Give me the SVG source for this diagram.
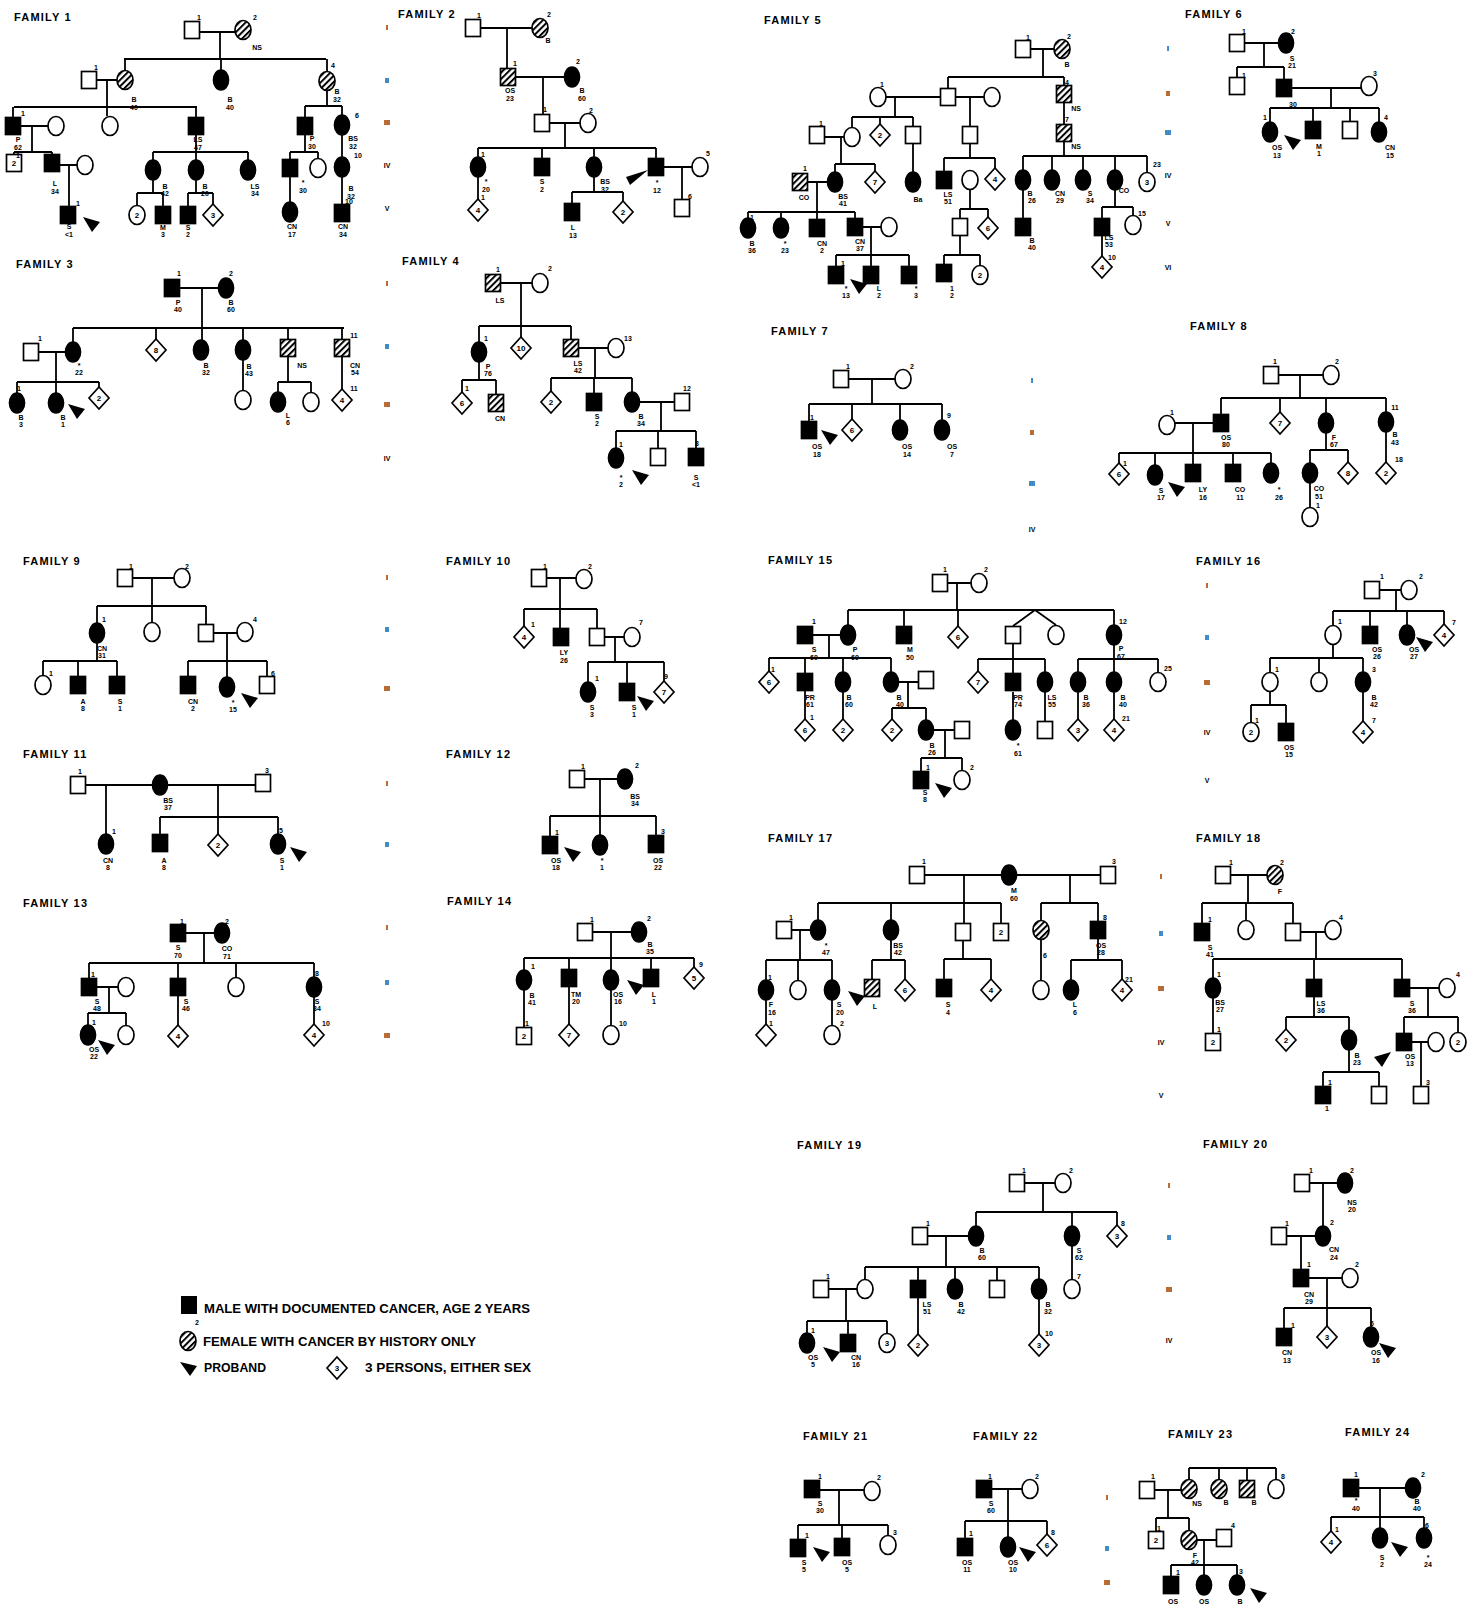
<svg xmlns="http://www.w3.org/2000/svg" width="1469" height="1606" viewBox="0 0 1469 1606">
<style>
.o{fill:#fff;stroke:#000;stroke-width:1.7}
.f{fill:#000;stroke:#000;stroke-width:1.7}
.h{fill:url(#hp);stroke:#000;stroke-width:1.7}
text{font-family:"Liberation Sans",Arial,sans-serif;font-weight:bold;fill:#000}
.t{font-size:11px;letter-spacing:1.2px}
.n,.l{font-size:7px;text-anchor:middle;dominant-baseline:central}
.i{font-size:8px;text-anchor:middle;dominant-baseline:central}
.g{font-size:7px;text-anchor:middle;dominant-baseline:central}
.k{fill:none;stroke:#000;stroke-width:1.8}
.lg{font-size:12px;dominant-baseline:central}
</style>
<defs>
<pattern id="hp" width="4.5" height="4.5" patternUnits="userSpaceOnUse" patternTransform="rotate(45)"><rect width="4.5" height="4.5" fill="#fff"/><rect width="2" height="4.5" fill="#000"/></pattern>
<rect id="S" class="o" x="-7.5" y="-8.5" width="15" height="17"/>
<rect id="SF" class="f" x="-7.5" y="-8.5" width="15" height="17"/>
<rect id="SH" class="h" x="-7.5" y="-8.5" width="15" height="17"/>
<ellipse id="C" class="o" rx="8" ry="9.5"/>
<ellipse id="CF" class="f" rx="7.5" ry="10"/>
<ellipse id="CH" class="h" rx="8" ry="9.5"/>
<polygon id="D" class="o" points="0,-11 10,0 0,11 -10,0"/>
<polygon id="P" points="0,0 17,5 9,15" fill="#000"/>
</defs>
<rect width="1469" height="1606" fill="#fff"/>

<g id="connectors" class="k">
<path id="c-f1" d="M200 32H235M220 32V59M124 59H326M125 59V70M221 59V70M327 59V71M97 80H117M107 80V116M14 107H197M13 107V117M196 107V117M21 126H48M32 126V152M14 152H52M14 152V154M52 152V154M60 165H77M69 165V206M196 135V160M153 152H248M153 152V160M248 152V160M153 180V193M137 193H163M137 193V205M163 193V206M196 180V193M188 193H213M188 193V206M213 193V204M327 91V106M305 106H342M305 106V117M342 106V115M305 135V152M290 152H318M290 152V159M318 152V158M290 177V202M342 135V157M342 177V204"/>
<path id="c-f2" d="M481 28H532M507 28V68M516 77H564M543 77V114M550 123H580M565 123V148M478 148H656M478 148V157M542 148V158M594 148V157M656 148V158M664 167H692M682 167V199M478 177V199M594 177V192M572 192H623M572 192V203M623 192V201"/>
<path id="c-f3" d="M180 288H218M202 288V340M73 328H344M73 328V342M156 328V339M243 328V340M288 328V339M342 328V339M39 352H65M56 352V393M17 382H99M17 382V393M99 382V387M243 360V390M288 357V382M278 382H311M278 382V392M311 382V392M342 357V389"/>
<path id="c-f4" d="M501 283H532M521 283V337M479 326H571M479 326V342M571 326V339M479 362V380M462 380H496M462 380V392M496 380V394M579 348H608M595 348V378M551 378H632M551 378V391M594 378V393M632 378V392M640 402H674M661 402V431M616 431H696M616 431V448M658 431V448M696 431V448"/>
<path id="c-f5" d="M1031 49H1054M1043 49V77M948 77H1064M948 77V88M1064 77V85M886 97H941M895 97V117M852 117H913M852 117V127M880 117V124M913 117V126M955 97H984M970 97V126M1064 103V124M825 137H844M841 137V164M835 164H875M835 164V172M875 164V171M913 144V172M970 144V158M944 158H995M944 158V171M995 158V168M1064 142V156M1023 156H1147M1023 156V170M1052 156V170M1083 156V170M1115 156V170M1147 156V172M808 182H827M817 182V212M748 212H855M748 212V218M781 212V218M817 212V219M855 212V218M970 190V209M960 209H988M960 209V218M988 209V217M1023 190V218M1115 190V207M1102 207H1133M1102 207V218M1133 207V215M863 227H881M871 227V255M836 255H909M836 255V266M871 255V266M909 255V266M960 236V255M944 255H980M944 255V264M980 255V265M1102 236V256"/>
<path id="c-f6" d="M1245 43H1278M1264 43V67M1237 67H1284M1237 67V77M1284 67V79M1292 88H1361M1331 88V108M1270 108H1379M1270 108V122M1313 108V121M1350 108V121M1379 108V122"/>
<path id="c-f7" d="M849 379H895M872 379V404M809 404H942M809 404V421M852 404V419M900 404V420M942 404V420"/>
<path id="c-f8" d="M1279 375H1323M1300 375V398M1221 398H1386M1221 398V414M1280 398V412M1326 398V413M1386 398V412M1175 423H1213M1193 423V464M1119 453H1271M1119 453V463M1155 453V465M1233 453V464M1271 453V463M1326 433V450M1310 450H1348M1310 450V463M1348 450V462M1386 432V462M1310 483V507"/>
<path id="c-f9" d="M133 578H174M152 578V622M97 606H206M97 606V623M206 606V624M214 633H237M227 633V677M188 661H267M188 661V676M267 661V676M97 643V661M43 661H117M43 661V675M78 661V676M117 661V676"/>
<path id="c-f10" d="M547 578H576M560 578V628M524 609H597M524 609V626M597 609V628M605 637H624M615 637V662M588 662H664M588 662V682M627 662V683M664 662V681"/>
<path id="c-f11" d="M86 785H152M106 785V834M168 785H255M218 785V834M160 817H278M160 817V834M278 817V834"/>
<path id="c-f12" d="M585 779H617M600 779V835M550 816H656M550 816V836M656 816V835"/>
<path id="c-f13" d="M186 933H214M204 933V963M89 963H314M89 963V978M178 963V978M236 963V977M314 963V977M97 987H118M109 987V1013M88 1013H126M88 1013V1025M126 1013V1025M178 996V1025M314 997V1024"/>
<path id="c-f14" d="M593 932H631M611 932V970M524 958H694M524 958V970M569 958V969M651 958V969M694 958V967M524 990V1027M569 987V1024M611 990V1025"/>
<path id="c-f15" d="M948 583H971M957 583V610M848 610H1114M848 610V625M904 610V626M958 610V626M1114 610V625M1035 610L1013 626M1035 610L1056 625M813 635H840M829 635V658M769 658H891M769 658V671M805 658V673M843 658V672M891 658V672M1013 644V673M978 659H1045M978 659V671M1045 659V672M1114 645V672M1078 659H1158M1078 659V672M1158 659V672M805 691V719M843 692V719M899 682H918M908 682V708M892 708H926M892 708V719M926 708V720M1013 692V720M1045 692V721M1078 692V719M1114 692V719M934 730H954M945 730V758M921 758H962M921 758V771M962 758V770"/>
<path id="c-f16" d="M1380 590H1401M1396 590V611M1333 611H1444M1333 611V625M1370 611V626M1407 611V625M1444 611V624M1333 645V658M1270 658H1363M1270 658V672M1319 658V672M1363 658V672M1270 692V705M1251 705H1286M1251 705V722M1286 705V723M1363 692V721"/>
<path id="c-f17" d="M925 875H1001M964 875V923M818 903H1001M818 903V920M891 903V920M1001 903V923M1017 875H1100M1070 875V903M1041 903H1098M1041 903V920M1098 903V921M792 930H810M800 930V960M766 960H832M766 960V980M798 960V980M832 960V980M891 940V960M872 960H905M872 960V979M905 960V979M963 941V959M944 959H991M944 959V979M991 959V979M1041 940V980M1098 939V960M1071 960H1122M1071 960V980M1122 960V979M766 1000V1024M832 1000V1025"/>
<path id="c-f18" d="M1231 875H1267M1248 875V903M1202 903H1293M1202 903V923M1246 903V920M1293 903V923M1301 932H1325M1316 932V959M1213 959H1402M1213 959V978M1314 959V979M1402 959V979M1213 998V1033M1314 997V1017M1286 1017H1349M1286 1017V1029M1349 1017V1030M1410 988H1439M1428 988V1017M1404 1017H1458M1404 1017V1033M1458 1017V1032M1412 1042H1428M1421 1042V1086M1349 1050V1072M1323 1072H1379M1323 1072V1086M1379 1072V1086"/>
<path id="c-f19" d="M1025 1183H1055M1043 1183V1212M976 1212H1117M976 1212V1226M1072 1212V1226M1117 1212V1225M928 1236H968M946 1236V1267M865 1267H1039M865 1267V1279M918 1267V1280M955 1267V1279M997 1267V1280M1039 1267V1279M1072 1246V1279M829 1289H857M846 1289V1321M807 1321H887M807 1321V1333M848 1321V1334M887 1321V1333M918 1298V1334M1039 1299V1334"/>
<path id="c-f20" d="M1310 1183H1337M1323 1183V1226M1287 1236H1315M1301 1236V1269M1309 1278H1342M1327 1278V1308M1284 1308H1371M1284 1308V1328M1327 1308V1326M1371 1308V1327"/>
<path id="c-f21" d="M820 1490H864M839 1490V1525M798 1525H888M798 1525V1539M842 1525V1538M888 1525V1535"/>
<path id="c-f22" d="M992 1489H1022M1008 1489V1537M965 1521H1047M965 1521V1538M1047 1521V1534"/>
<path id="c-f23" d="M1189 1468H1276M1189 1468V1479M1219 1468V1479M1247 1468V1480M1276 1468V1479M1155 1490H1181M1168 1490V1518M1156 1518H1189M1156 1518V1531M1189 1518V1530M1197 1540H1216M1204 1540V1575M1171 1565H1237M1171 1565V1576M1237 1565V1575"/>
<path id="c-f24" d="M1359 1488H1405M1380 1488V1528M1331 1517H1424M1331 1517V1531M1424 1517V1528"/>
</g>

<g id="generations">
<text class="g" x="387" y="27">I</text><text class="g" x="387" y="80">II</text><text class="g" x="387" y="122">III</text><text class="g" x="387" y="165">IV</text><text class="g" x="387" y="208">V</text>
<text class="g" x="387" y="283">I</text><text class="g" x="387" y="346">II</text><text class="g" x="387" y="404">III</text><text class="g" x="387" y="458">IV</text>
<text class="g" x="1168" y="48">I</text><text class="g" x="1168" y="93">II</text><text class="g" x="1168" y="132">III</text><text class="g" x="1168" y="175">IV</text><text class="g" x="1168" y="223">V</text><text class="g" x="1168" y="267">VI</text>
<text class="g" x="1032" y="380">I</text><text class="g" x="1032" y="432">II</text><text class="g" x="1032" y="483">III</text><text class="g" x="1032" y="529">IV</text>
<text class="g" x="387" y="577">I</text><text class="g" x="387" y="629">II</text><text class="g" x="387" y="688">III</text>
<text class="g" x="387" y="783">I</text><text class="g" x="387" y="844">II</text>
<text class="g" x="387" y="927">I</text><text class="g" x="387" y="982">II</text><text class="g" x="387" y="1035">III</text>
<text class="g" x="1207" y="585">I</text><text class="g" x="1207" y="637">II</text><text class="g" x="1207" y="682">III</text><text class="g" x="1207" y="732">IV</text><text class="g" x="1207" y="780">V</text>
<text class="g" x="1161" y="876">I</text><text class="g" x="1161" y="933">II</text><text class="g" x="1161" y="988">III</text><text class="g" x="1161" y="1042">IV</text><text class="g" x="1161" y="1095">V</text>
<text class="g" x="1169" y="1185">I</text><text class="g" x="1169" y="1237">II</text><text class="g" x="1169" y="1289">III</text><text class="g" x="1169" y="1340">IV</text>
<text class="g" x="1107" y="1497">I</text><text class="g" x="1107" y="1548">II</text><text class="g" x="1107" y="1582">III</text>
</g>

<g id="family-1">
<text class="t" x="14" y="21">FAMILY 1</text>
<g id="f1-1"><use href="#S" x="192" y="30"/><text class="n" x="199" y="17">1</text></g>
<g id="f1-2"><use href="#CH" x="243" y="30"/><text class="n" x="255" y="17">2</text><text class="l" x="257" y="47">NS</text></g>
<g id="f1-3"><use href="#S" x="89" y="80"/><text class="n" x="96" y="67">1</text></g>
<g id="f1-4"><use href="#CH" x="125" y="80"/><text class="l" x="134" y="99">B<tspan x="134" dy="7.5">40</tspan></text></g>
<g id="f1-5"><use href="#CF" x="221" y="80"/><text class="l" x="230" y="99">B<tspan x="230" dy="7.5">40</tspan></text></g>
<g id="f1-6"><use href="#CH" x="327" y="81"/><text class="n" x="333" y="65">4</text><text class="l" x="337" y="91">B<tspan x="337" dy="8">32</tspan></text></g>
<g id="f1-7"><use href="#SF" x="13" y="126"/><text class="n" x="23" y="113">1</text><text class="l" x="18" y="139">P<tspan x="18" dy="7.5">62</tspan></text></g>
<g id="f1-8"><use href="#C" x="56" y="126"/></g>
<g id="f1-9"><use href="#C" x="110" y="126"/></g>
<g id="f1-10"><use href="#SF" x="196" y="126"/><text class="l" x="198" y="139">LS<tspan x="198" dy="7.5">47</tspan></text></g>
<g id="f1-11"><use href="#SF" x="305" y="126"/><text class="l" x="312" y="138">P<tspan x="312" dy="7.5">30</tspan></text></g>
<g id="f1-12"><use href="#CF" x="342" y="125"/><text class="n" x="357" y="115">6</text><text class="l" x="353" y="138">BS<tspan x="353" dy="7.5">32</tspan></text></g>
<g id="f1-13"><use href="#S" x="14" y="163"/><text class="i" x="14" y="163">2</text><text class="n" x="18" y="155">1</text></g>
<g id="f1-14"><use href="#SF" x="52" y="163"/><text class="l" x="55" y="183">L<tspan x="55" dy="7.5">34</tspan></text></g>
<g id="f1-15"><use href="#C" x="85" y="165"/></g>
<g id="f1-16"><use href="#CF" x="153" y="170"/><text class="l" x="165" y="186">B<tspan x="165" dy="7">42</tspan></text></g>
<g id="f1-17"><use href="#CF" x="196" y="170"/><text class="l" x="205" y="186">B<tspan x="205" dy="7">20</tspan></text></g>
<g id="f1-18"><use href="#CF" x="248" y="170"/><text class="l" x="255" y="186">LS<tspan x="255" dy="7">34</tspan></text></g>
<g id="f1-19"><use href="#SF" x="290" y="168"/><text class="l" x="303" y="182">*<tspan x="303" dy="7.5">30</tspan></text></g>
<g id="f1-20"><use href="#C" x="318" y="168"/></g>
<g id="f1-21"><use href="#CF" x="342" y="167"/><text class="n" x="358" y="155">10</text><text class="l" x="351" y="188">B<tspan x="351" dy="7.5">32</tspan></text></g>
<g id="f1-22"><use href="#SF" x="68" y="215"/><text class="n" x="78" y="203">1</text><use href="#P" x="83" y="217"/><text class="l" x="69" y="226">S<tspan x="69" dy="7.5">&lt;1</tspan></text></g>
<g id="f1-23"><use href="#C" x="137" y="215"/><text class="i" x="137" y="215">2</text></g>
<g id="f1-24"><use href="#SF" x="163" y="215"/><text class="l" x="163" y="227">M<tspan x="163" dy="7">3</tspan></text></g>
<g id="f1-25"><use href="#SF" x="188" y="215"/><text class="l" x="188" y="227">S<tspan x="188" dy="7">2</tspan></text></g>
<g id="f1-26"><use href="#D" x="213" y="215"/><text class="i" x="213" y="215">3</text></g>
<g id="f1-27"><use href="#CF" x="290" y="212"/><text class="l" x="292" y="226">CN<tspan x="292" dy="7.5">17</tspan></text></g>
<g id="f1-28"><use href="#SF" x="342" y="213"/><text class="n" x="349" y="201">10</text><text class="l" x="343" y="226">CN<tspan x="343" dy="7.5">34</tspan></text></g>
</g>

<g id="family-2">
<text class="t" x="398" y="18">FAMILY 2</text>
<g id="f2-1"><use href="#S" x="473" y="28"/><text class="n" x="479" y="15">1</text></g>
<g id="f2-2"><use href="#CH" x="540" y="28"/><text class="n" x="549" y="14">2</text><text class="l" x="548" y="40">B</text></g>
<g id="f2-3"><use href="#SH" x="508" y="77"/><text class="n" x="515" y="63">1</text><text class="l" x="510" y="90">OS<tspan x="510" dy="7.5">23</tspan></text></g>
<g id="f2-4"><use href="#CF" x="572" y="77"/><text class="n" x="578" y="61">2</text><text class="l" x="582" y="90">B<tspan x="582" dy="7.5">60</tspan></text></g>
<g id="f2-5"><use href="#S" x="542" y="123"/><text class="n" x="545" y="109">1</text></g>
<g id="f2-6"><use href="#C" x="588" y="123"/><text class="n" x="591" y="110">2</text></g>
<g id="f2-7"><use href="#CF" x="478" y="167"/><text class="n" x="483" y="154">1</text><text class="l" x="486" y="181">*<tspan x="486" dy="7.5">20</tspan></text></g>
<g id="f2-8"><use href="#SF" x="542" y="167"/><text class="l" x="542" y="181">S<tspan x="542" dy="7.5">2</tspan></text></g>
<g id="f2-9"><use href="#CF" x="594" y="167"/><text class="l" x="605" y="181">BS<tspan x="605" dy="7.5">32</tspan></text></g>
<g id="f2-10"><use href="#SF" x="656" y="167"/><polygon points="648,170 626,177 630,185" fill="#000"/><text class="l" x="657" y="182">*<tspan x="657" dy="7.5">12</tspan></text></g>
<g id="f2-11"><use href="#C" x="700" y="167"/><text class="n" x="708" y="153">5</text></g>
<g id="f2-12"><use href="#D" x="478" y="210"/><text class="i" x="478" y="210">4</text><text class="n" x="483" y="197">1</text></g>
<g id="f2-13"><use href="#SF" x="572" y="212"/><text class="l" x="573" y="227">L<tspan x="573" dy="7.5">13</tspan></text></g>
<g id="f2-14"><use href="#D" x="623" y="212"/><text class="i" x="623" y="212">2</text></g>
<g id="f2-15"><use href="#S" x="682" y="208"/><text class="n" x="690" y="196">6</text></g>
</g>

<g id="family-3">
<text class="t" x="16" y="268">FAMILY 3</text>
<g id="f3-1"><use href="#SF" x="172" y="288"/><text class="n" x="179" y="273">1</text><text class="l" x="178" y="302">P<tspan x="178" dy="7">40</tspan></text></g>
<g id="f3-2"><use href="#CF" x="226" y="288"/><text class="n" x="231" y="273">2</text><text class="l" x="231" y="302">B<tspan x="231" dy="7">60</tspan></text></g>
<g id="f3-3"><use href="#S" x="31" y="352"/><text class="n" x="40" y="338">1</text></g>
<g id="f3-4"><use href="#CF" x="73" y="352"/><text class="l" x="79" y="365">*<tspan x="79" dy="7">22</tspan></text></g>
<g id="f3-5"><use href="#D" x="156" y="350"/><text class="i" x="156" y="350">8</text></g>
<g id="f3-6"><use href="#CF" x="201" y="350"/><text class="l" x="206" y="365">B<tspan x="206" dy="7">32</tspan></text></g>
<g id="f3-7"><use href="#CF" x="243" y="350"/><text class="l" x="249" y="366">B<tspan x="249" dy="7">43</tspan></text></g>
<g id="f3-8"><use href="#SH" x="288" y="348"/><text class="l" x="302" y="365">NS</text></g>
<g id="f3-9"><use href="#SH" x="342" y="348"/><text class="n" x="354" y="335">11</text><text class="l" x="355" y="365">CN<tspan x="355" dy="7">54</tspan></text></g>
<g id="f3-10"><use href="#CF" x="17" y="403"/><text class="n" x="19" y="388">1</text><text class="l" x="21" y="417">B<tspan x="21" dy="7">3</tspan></text></g>
<g id="f3-11"><use href="#CF" x="56" y="403"/><use href="#P" x="68" y="404"/><text class="l" x="63" y="417">B<tspan x="63" dy="7">1</tspan></text></g>
<g id="f3-12"><use href="#D" x="99" y="398"/><text class="i" x="99" y="398">2</text></g>
<g id="f3-13"><use href="#C" x="243" y="400"/></g>
<g id="f3-14"><use href="#CF" x="278" y="402"/><text class="l" x="288" y="415">L<tspan x="288" dy="7">6</tspan></text></g>
<g id="f3-15"><use href="#C" x="311" y="402"/></g>
<g id="f3-16"><use href="#D" x="342" y="400"/><text class="i" x="342" y="400">4</text><text class="n" x="354" y="388">11</text></g>
</g>

<g id="family-4">
<text class="t" x="402" y="265">FAMILY 4</text>
<g id="f4-1"><use href="#SH" x="493" y="283"/><text class="n" x="498" y="269">1</text><text class="l" x="500" y="300">LS</text></g>
<g id="f4-2"><use href="#C" x="540" y="283"/><text class="n" x="550" y="268">2</text></g>
<g id="f4-3"><use href="#CF" x="479" y="352"/><text class="n" x="486" y="338">1</text><text class="l" x="488" y="366">P<tspan x="488" dy="7">76</tspan></text></g>
<g id="f4-4"><use href="#D" x="521" y="348"/><text class="i" x="521" y="348">10</text></g>
<g id="f4-5"><use href="#SH" x="571" y="348"/><text class="l" x="578" y="363">LS<tspan x="578" dy="7">42</tspan></text></g>
<g id="f4-6"><use href="#C" x="616" y="348"/><text class="n" x="628" y="338">13</text></g>
<g id="f4-7"><use href="#D" x="462" y="403"/><text class="i" x="462" y="403">6</text><text class="n" x="467" y="388">1</text></g>
<g id="f4-8"><use href="#SH" x="496" y="403"/><text class="l" x="500" y="418">CN</text></g>
<g id="f4-9"><use href="#D" x="551" y="402"/><text class="i" x="551" y="402">2</text></g>
<g id="f4-10"><use href="#SF" x="594" y="402"/><text class="l" x="597" y="416">S<tspan x="597" dy="7">2</tspan></text></g>
<g id="f4-11"><use href="#CF" x="632" y="402"/><text class="l" x="641" y="416">B<tspan x="641" dy="7">34</tspan></text></g>
<g id="f4-12"><use href="#S" x="682" y="402"/><text class="n" x="687" y="388">12</text></g>
<g id="f4-13"><use href="#CF" x="616" y="458"/><text class="n" x="621" y="444">1</text><use href="#P" x="632" y="470"/><text class="l" x="621" y="477">*<tspan x="621" dy="7">2</tspan></text></g>
<g id="f4-14"><use href="#S" x="658" y="457"/></g>
<g id="f4-15"><use href="#SF" x="696" y="457"/><text class="n" x="697" y="443">3</text><text class="l" x="696" y="477">S<tspan x="696" dy="7">&lt;1</tspan></text></g>
</g>

<g id="family-5">
<text class="t" x="764" y="24">FAMILY 5</text>
<g id="f5-1"><use href="#S" x="1023" y="49"/><text class="n" x="1028" y="37">1</text></g>
<g id="f5-2"><use href="#CH" x="1062" y="49"/><text class="n" x="1069" y="36">2</text><text class="l" x="1067" y="64">B</text></g>
<g id="f5-3"><use href="#C" x="878" y="97"/><text class="n" x="882" y="84">1</text></g>
<g id="f5-4"><use href="#S" x="948" y="97"/></g>
<g id="f5-5"><use href="#C" x="992" y="97"/></g>
<g id="f5-6"><use href="#SH" x="1064" y="94"/><text class="n" x="1067" y="82">4</text><text class="l" x="1076" y="108">NS</text></g>
<g id="f5-7"><use href="#S" x="817" y="135"/><text class="n" x="821" y="123">1</text></g>
<g id="f5-8"><use href="#C" x="852" y="137"/></g>
<g id="f5-9"><use href="#D" x="880" y="135"/><text class="i" x="880" y="135">2</text></g>
<g id="f5-10"><use href="#S" x="913" y="135"/></g>
<g id="f5-11"><use href="#S" x="970" y="135"/></g>
<g id="f5-12"><use href="#SH" x="1064" y="133"/><text class="n" x="1067" y="119">7</text><text class="l" x="1076" y="146">NS</text></g>
<g id="f5-13"><use href="#SH" x="800" y="182"/><text class="n" x="805" y="168">1</text><text class="l" x="804" y="197">CO</text></g>
<g id="f5-14"><use href="#CF" x="835" y="182"/><text class="l" x="843" y="196">BS<tspan x="843" dy="7">41</tspan></text></g>
<g id="f5-15"><use href="#D" x="875" y="182"/><text class="i" x="875" y="182">7</text></g>
<g id="f5-16"><use href="#CF" x="913" y="182"/><text class="l" x="918" y="199">Ba</text></g>
<g id="f5-17"><use href="#SF" x="944" y="180"/><text class="l" x="948" y="194">LS<tspan x="948" dy="7">51</tspan></text></g>
<g id="f5-18"><use href="#C" x="970" y="180"/></g>
<g id="f5-19"><use href="#D" x="995" y="179"/><text class="i" x="995" y="179">4</text></g>
<g id="f5-20"><use href="#CF" x="1023" y="180"/><text class="l" x="1030" y="193">B<tspan x="1032" dy="7">26</tspan></text></g>
<g id="f5-21"><use href="#CF" x="1052" y="180"/><text class="l" x="1060" y="193">CN<tspan x="1060" dy="7">29</tspan></text></g>
<g id="f5-22"><use href="#CF" x="1083" y="180"/><text class="l" x="1090" y="193">S<tspan x="1090" dy="7">34</tspan></text></g>
<g id="f5-23"><use href="#CF" x="1115" y="180"/><text class="l" x="1124" y="190">CO</text></g>
<g id="f5-24"><use href="#C" x="1147" y="182"/><text class="i" x="1147" y="182">3</text><text class="n" x="1157" y="164">23</text></g>
<g id="f5-25"><use href="#CF" x="748" y="228"/><text class="n" x="752" y="217">1</text><text class="l" x="752" y="243">B<tspan x="752" dy="7">36</tspan></text></g>
<g id="f5-26"><use href="#CF" x="781" y="228"/><text class="l" x="785" y="243">*<tspan x="785" dy="7">23</tspan></text></g>
<g id="f5-27"><use href="#SF" x="817" y="228"/><text class="l" x="822" y="243">CN<tspan x="822" dy="7">2</tspan></text></g>
<g id="f5-28"><use href="#SF" x="855" y="227"/><text class="l" x="860" y="241">CN<tspan x="860" dy="7">37</tspan></text></g>
<g id="f5-29"><use href="#C" x="889" y="227"/></g>
<g id="f5-30"><use href="#S" x="960" y="227"/></g>
<g id="f5-31"><use href="#D" x="988" y="228"/><text class="i" x="988" y="228">6</text></g>
<g id="f5-32"><use href="#SF" x="1023" y="227"/><text class="l" x="1032" y="240">B<tspan x="1032" dy="7">40</tspan></text></g>
<g id="f5-33"><use href="#SF" x="1102" y="227"/><text class="l" x="1109" y="237">LS<tspan x="1109" dy="7">53</tspan></text></g>
<g id="f5-34"><use href="#C" x="1133" y="225"/><text class="n" x="1142" y="213">15</text></g>
<g id="f5-35"><use href="#SF" x="836" y="275"/><text class="n" x="843" y="263">1</text><use href="#P" x="850" y="279"/><text class="l" x="846" y="288">*<tspan x="846" dy="7">13</tspan></text></g>
<g id="f5-36"><use href="#SF" x="871" y="275"/><text class="l" x="879" y="288">L<tspan x="879" dy="7">2</tspan></text></g>
<g id="f5-37"><use href="#SF" x="909" y="275"/><text class="l" x="916" y="288">*<tspan x="916" dy="7">3</tspan></text></g>
<g id="f5-38"><use href="#SF" x="944" y="273"/><text class="l" x="952" y="288">1<tspan x="952" dy="7">2</tspan></text></g>
<g id="f5-39"><use href="#C" x="980" y="275"/><text class="i" x="980" y="275">2</text></g>
<g id="f5-40"><use href="#D" x="1102" y="267"/><text class="i" x="1102" y="267">4</text><text class="n" x="1112" y="257">10</text></g>
</g>

<g id="family-6">
<text class="t" x="1185" y="18">FAMILY 6</text>
<g id="f6-1"><use href="#S" x="1237" y="43"/><text class="n" x="1244" y="31">1</text></g>
<g id="f6-2"><use href="#CF" x="1286" y="43"/><text class="n" x="1293" y="31">2</text><text class="l" x="1292" y="58">S<tspan x="1292" dy="7">21</tspan></text></g>
<g id="f6-3"><use href="#S" x="1237" y="86"/><text class="n" x="1244" y="75">1</text></g>
<g id="f6-4"><use href="#SF" x="1284" y="88"/><text class="l" x="1293" y="104">30</text></g>
<g id="f6-5"><use href="#C" x="1369" y="86"/><text class="n" x="1375" y="73">3</text></g>
<g id="f6-6"><use href="#CF" x="1270" y="132"/><text class="n" x="1265" y="117">1</text><use href="#P" x="1284" y="135"/><text class="l" x="1277" y="147">OS<tspan x="1277" dy="7.5">13</tspan></text></g>
<g id="f6-7"><use href="#SF" x="1313" y="130"/><text class="l" x="1319" y="146">M<tspan x="1319" dy="7">1</tspan></text></g>
<g id="f6-8"><use href="#S" x="1350" y="130"/></g>
<g id="f6-9"><use href="#CF" x="1379" y="132"/><text class="n" x="1386" y="117">4</text><text class="l" x="1390" y="147">CN<tspan x="1390" dy="7.5">15</tspan></text></g>
</g>

<g id="family-7">
<text class="t" x="771" y="335">FAMILY 7</text>
<g id="f7-1"><use href="#S" x="841" y="379"/><text class="n" x="848" y="366">1</text></g>
<g id="f7-2"><use href="#C" x="903" y="379"/><text class="n" x="912" y="366">2</text></g>
<g id="f7-3"><use href="#SF" x="809" y="430"/><text class="n" x="812" y="417">1</text><use href="#P" x="821" y="430"/><text class="l" x="817" y="446">OS<tspan x="817" dy="7.5">18</tspan></text></g>
<g id="f7-4"><use href="#D" x="852" y="430"/><text class="i" x="852" y="430">6</text></g>
<g id="f7-5"><use href="#CF" x="900" y="430"/><text class="l" x="907" y="446">OS<tspan x="907" dy="7.5">14</tspan></text></g>
<g id="f7-6"><use href="#CF" x="942" y="430"/><text class="n" x="949" y="415">9</text><text class="l" x="952" y="446">OS<tspan x="952" dy="7.5">7</tspan></text></g>
</g>

<g id="family-8">
<text class="t" x="1190" y="330">FAMILY 8</text>
<g id="f8-1"><use href="#S" x="1271" y="375"/><text class="n" x="1275" y="361">1</text></g>
<g id="f8-2"><use href="#C" x="1331" y="375"/><text class="n" x="1337" y="361">2</text></g>
<g id="f8-3"><use href="#C" x="1167" y="425"/><text class="n" x="1172" y="412">1</text></g>
<g id="f8-4"><use href="#SF" x="1221" y="423"/><text class="l" x="1226" y="437">OS<tspan x="1226" dy="7">80</tspan></text></g>
<g id="f8-5"><use href="#D" x="1280" y="423"/><text class="i" x="1280" y="423">7</text></g>
<g id="f8-6"><use href="#CF" x="1326" y="423"/><text class="l" x="1334" y="437">F<tspan x="1334" dy="7">67</tspan></text></g>
<g id="f8-7"><use href="#CF" x="1386" y="422"/><text class="n" x="1395" y="407">11</text><text class="l" x="1395" y="434">B<tspan x="1395" dy="7.5">43</tspan></text></g>
<g id="f8-8"><use href="#D" x="1119" y="474"/><text class="i" x="1119" y="474">6</text><text class="n" x="1125" y="463">1</text></g>
<g id="f8-9"><use href="#CF" x="1155" y="475"/><use href="#P" x="1168" y="482"/><text class="l" x="1161" y="490">S<tspan x="1161" dy="7">17</tspan></text></g>
<g id="f8-10"><use href="#SF" x="1193" y="473"/><text class="l" x="1203" y="489">LY<tspan x="1203" dy="7.5">16</tspan></text></g>
<g id="f8-11"><use href="#SF" x="1233" y="473"/><text class="l" x="1240" y="489">CO<tspan x="1240" dy="7.5">11</tspan></text></g>
<g id="f8-12"><use href="#CF" x="1271" y="473"/><text class="l" x="1279" y="489">*<tspan x="1279" dy="7.5">26</tspan></text></g>
<g id="f8-13"><use href="#CF" x="1310" y="473"/><text class="l" x="1319" y="488">CO<tspan x="1319" dy="7.5">51</tspan></text></g>
<g id="f8-14"><use href="#D" x="1348" y="473"/><text class="i" x="1348" y="473">8</text></g>
<g id="f8-15"><use href="#D" x="1386" y="473"/><text class="i" x="1386" y="473">2</text><text class="n" x="1399" y="459">18</text></g>
<g id="f8-16"><use href="#C" x="1310" y="517"/><text class="n" x="1318" y="505">1</text></g>
</g>

<g id="family-9">
<text class="t" x="23" y="565">FAMILY 9</text>
<g id="f9-1"><use href="#S" x="125" y="578"/><text class="n" x="131" y="566">1</text></g>
<g id="f9-2"><use href="#C" x="182" y="578"/><text class="n" x="187" y="566">2</text></g>
<g id="f9-3"><use href="#CF" x="97" y="633"/><text class="n" x="104" y="619">1</text><text class="l" x="102" y="648">CN<tspan x="102" dy="7">31</tspan></text></g>
<g id="f9-4"><use href="#C" x="152" y="632"/></g>
<g id="f9-5"><use href="#S" x="206" y="633"/></g>
<g id="f9-6"><use href="#C" x="245" y="632"/><text class="n" x="255" y="619">4</text></g>
<g id="f9-7"><use href="#C" x="43" y="685"/><text class="n" x="51" y="673">1</text></g>
<g id="f9-8"><use href="#SF" x="78" y="685"/><text class="l" x="83" y="701">A<tspan x="83" dy="7">8</tspan></text></g>
<g id="f9-9"><use href="#SF" x="117" y="685"/><text class="l" x="120" y="701">S<tspan x="120" dy="7">1</tspan></text></g>
<g id="f9-10"><use href="#SF" x="188" y="685"/><text class="l" x="193" y="701">CN<tspan x="193" dy="7">2</tspan></text></g>
<g id="f9-11"><use href="#CF" x="227" y="687"/><use href="#P" x="241" y="693"/><text class="l" x="233" y="702">*<tspan x="233" dy="7">15</tspan></text></g>
<g id="f9-12"><use href="#S" x="267" y="685"/><text class="n" x="273" y="673">6</text></g>
</g>

<g id="family-10">
<text class="t" x="446" y="565">FAMILY 10</text>
<g id="f10-1"><use href="#S" x="539" y="578"/><text class="n" x="545" y="566">1</text></g>
<g id="f10-2"><use href="#C" x="584" y="579"/><text class="n" x="590" y="566">2</text></g>
<g id="f10-3"><use href="#D" x="524" y="637"/><text class="i" x="524" y="637">4</text><text class="n" x="533" y="624">1</text></g>
<g id="f10-4"><use href="#SF" x="561" y="637"/><text class="l" x="564" y="652">LY<tspan x="564" dy="7.5">26</tspan></text></g>
<g id="f10-5"><use href="#S" x="597" y="637"/></g>
<g id="f10-6"><use href="#C" x="632" y="637"/><text class="n" x="641" y="622">7</text></g>
<g id="f10-7"><use href="#CF" x="588" y="692"/><text class="n" x="597" y="678">1</text><text class="l" x="592" y="707">S<tspan x="592" dy="7">3</tspan></text></g>
<g id="f10-8"><use href="#SF" x="627" y="692"/><use href="#P" x="637" y="696"/><text class="l" x="634" y="707">S<tspan x="634" dy="7">1</tspan></text></g>
<g id="f10-9"><use href="#D" x="664" y="692"/><text class="i" x="664" y="692">7</text><text class="n" x="666" y="676">9</text></g>
</g>

<g id="family-11">
<text class="t" x="23" y="758">FAMILY 11</text>
<g id="f11-1"><use href="#S" x="78" y="785"/><text class="n" x="80" y="771">1</text></g>
<g id="f11-2"><use href="#CF" x="160" y="785"/><text class="l" x="168" y="800">BS<tspan x="168" dy="7">37</tspan></text></g>
<g id="f11-3"><use href="#S" x="263" y="783"/><text class="n" x="267" y="770">3</text></g>
<g id="f11-4"><use href="#CF" x="106" y="844"/><text class="n" x="114" y="831">1</text><text class="l" x="108" y="860">CN<tspan x="108" dy="7">8</tspan></text></g>
<g id="f11-5"><use href="#SF" x="160" y="843"/><text class="l" x="164" y="860">A<tspan x="164" dy="7">8</tspan></text></g>
<g id="f11-6"><use href="#D" x="218" y="845"/><text class="i" x="218" y="845">2</text></g>
<g id="f11-7"><use href="#CF" x="278" y="844"/><text class="n" x="281" y="830">5</text><use href="#P" x="290" y="847"/><text class="l" x="282" y="860">S<tspan x="282" dy="7">1</tspan></text></g>
</g>

<g id="family-12">
<text class="t" x="446" y="758">FAMILY 12</text>
<g id="f12-1"><use href="#S" x="577" y="779"/><text class="n" x="583" y="766">1</text></g>
<g id="f12-2"><use href="#CF" x="625" y="779"/><text class="n" x="637" y="765">2</text><text class="l" x="635" y="796">BS<tspan x="635" dy="7">34</tspan></text></g>
<g id="f12-3"><use href="#SF" x="550" y="845"/><text class="n" x="557" y="832">1</text><use href="#P" x="564" y="847"/><text class="l" x="556" y="860">OS<tspan x="556" dy="7">18</tspan></text></g>
<g id="f12-4"><use href="#CF" x="600" y="845"/><text class="l" x="602" y="860">*<tspan x="602" dy="7">1</tspan></text></g>
<g id="f12-5"><use href="#SF" x="656" y="844"/><text class="n" x="663" y="831">3</text><text class="l" x="658" y="860">OS<tspan x="658" dy="7">22</tspan></text></g>
</g>

<g id="family-13">
<text class="t" x="23" y="907">FAMILY 13</text>
<g id="f13-1"><use href="#SF" x="178" y="933"/><text class="n" x="182" y="921">1</text><text class="l" x="178" y="947">S<tspan x="178" dy="7.5">70</tspan></text></g>
<g id="f13-2"><use href="#CF" x="222" y="933"/><text class="n" x="227" y="921">2</text><text class="l" x="227" y="948">CO<tspan x="227" dy="7.5">71</tspan></text></g>
<g id="f13-3"><use href="#SF" x="89" y="987"/><text class="n" x="93" y="974">1</text><text class="l" x="97" y="1001">S<tspan x="97" dy="7">48</tspan></text></g>
<g id="f13-4"><use href="#C" x="126" y="987"/></g>
<g id="f13-5"><use href="#SF" x="178" y="987"/><text class="l" x="186" y="1001">S<tspan x="186" dy="7">46</tspan></text></g>
<g id="f13-6"><use href="#C" x="236" y="987"/></g>
<g id="f13-7"><use href="#CF" x="314" y="987"/><text class="n" x="317" y="973">8</text><text class="l" x="317" y="1001">S<tspan x="317" dy="7">34</tspan></text></g>
<g id="f13-8"><use href="#CF" x="88" y="1035"/><text class="n" x="94" y="1022">1</text><use href="#P" x="98" y="1040"/><text class="l" x="94" y="1049">OS<tspan x="94" dy="7">22</tspan></text></g>
<g id="f13-9"><use href="#C" x="126" y="1035"/></g>
<g id="f13-10"><use href="#D" x="178" y="1036"/><text class="i" x="178" y="1036">4</text></g>
<g id="f13-11"><use href="#D" x="314" y="1035"/><text class="i" x="314" y="1035">4</text><text class="n" x="326" y="1023">10</text></g>
</g>

<g id="family-14">
<text class="t" x="447" y="905">FAMILY 14</text>
<g id="f14-1"><use href="#S" x="585" y="932"/><text class="n" x="592" y="919">1</text></g>
<g id="f14-2"><use href="#CF" x="639" y="932"/><text class="n" x="649" y="918">2</text><text class="l" x="650" y="944">B<tspan x="650" dy="7">35</tspan></text></g>
<g id="f14-3"><use href="#CF" x="524" y="980"/><text class="n" x="533" y="966">1</text><text class="l" x="532" y="995">B<tspan x="532" dy="7">41</tspan></text></g>
<g id="f14-4"><use href="#SF" x="569" y="978"/><text class="l" x="576" y="994">TM<tspan x="576" dy="7">20</tspan></text></g>
<g id="f14-5"><use href="#CF" x="611" y="980"/><use href="#P" x="627" y="980"/><text class="l" x="618" y="994">OS<tspan x="618" dy="7">16</tspan></text></g>
<g id="f14-6"><use href="#SF" x="651" y="978"/><text class="l" x="654" y="994">L<tspan x="654" dy="7">1</tspan></text></g>
<g id="f14-7"><use href="#D" x="694" y="978"/><text class="i" x="694" y="978">5</text><text class="n" x="701" y="964">9</text></g>
<g id="f14-8"><use href="#S" x="524" y="1036"/><text class="i" x="524" y="1036">2</text><text class="n" x="527" y="1023">1</text></g>
<g id="f14-9"><use href="#D" x="569" y="1035"/><text class="i" x="569" y="1035">7</text></g>
<g id="f14-10"><use href="#C" x="611" y="1035"/><text class="n" x="623" y="1023">10</text></g>
</g>

<g id="family-15">
<text class="t" x="768" y="564">FAMILY 15</text>
<g id="f15-1"><use href="#S" x="940" y="583"/><text class="n" x="945" y="569">1</text></g>
<g id="f15-2"><use href="#C" x="979" y="583"/><text class="n" x="986" y="569">2</text></g>
<g id="f15-3"><use href="#SF" x="805" y="635"/><text class="n" x="814" y="621">1</text><text class="l" x="814" y="649">S<tspan x="814" dy="7.5">60</tspan></text></g>
<g id="f15-4"><use href="#CF" x="848" y="635"/><text class="l" x="855" y="649">P<tspan x="855" dy="7.5">69</tspan></text></g>
<g id="f15-5"><use href="#SF" x="904" y="635"/><text class="l" x="910" y="649">M<tspan x="910" dy="7.5">50</tspan></text></g>
<g id="f15-6"><use href="#D" x="958" y="637"/><text class="i" x="958" y="637">6</text></g>
<g id="f15-7"><use href="#S" x="1013" y="635"/></g>
<g id="f15-8"><use href="#C" x="1056" y="635"/></g>
<g id="f15-9"><use href="#CF" x="1114" y="635"/><text class="n" x="1123" y="621">12</text><text class="l" x="1121" y="648">P<tspan x="1121" dy="7.5">67</tspan></text></g>
<g id="f15-10"><use href="#D" x="769" y="682"/><text class="i" x="769" y="682">6</text><text class="n" x="773" y="669">1</text></g>
<g id="f15-11"><use href="#SF" x="805" y="682"/><text class="l" x="810" y="697">PR<tspan x="810" dy="7">61</tspan></text></g>
<g id="f15-12"><use href="#CF" x="843" y="682"/><text class="l" x="849" y="697">B<tspan x="849" dy="7">60</tspan></text></g>
<g id="f15-13"><use href="#CF" x="891" y="682"/><text class="l" x="899" y="697">B<tspan x="900" dy="7">40</tspan></text></g>
<g id="f15-14"><use href="#S" x="926" y="680"/></g>
<g id="f15-15"><use href="#D" x="978" y="682"/><text class="i" x="978" y="682">7</text></g>
<g id="f15-16"><use href="#SF" x="1013" y="682"/><text class="l" x="1018" y="697">PR<tspan x="1018" dy="7">74</tspan></text></g>
<g id="f15-17"><use href="#CF" x="1045" y="682"/><text class="l" x="1052" y="697">LS<tspan x="1052" dy="7">55</tspan></text></g>
<g id="f15-18"><use href="#CF" x="1078" y="682"/><text class="l" x="1086" y="697">B<tspan x="1086" dy="7">36</tspan></text></g>
<g id="f15-19"><use href="#CF" x="1114" y="682"/><text class="l" x="1123" y="697">B<tspan x="1123" dy="7">40</tspan></text></g>
<g id="f15-20"><use href="#C" x="1158" y="682"/><text class="n" x="1168" y="668">25</text></g>
<g id="f15-21"><use href="#D" x="805" y="730"/><text class="i" x="805" y="730">6</text><text class="n" x="812" y="717">1</text></g>
<g id="f15-22"><use href="#D" x="843" y="730"/><text class="i" x="843" y="730">2</text></g>
<g id="f15-23"><use href="#D" x="892" y="730"/><text class="i" x="892" y="730">2</text></g>
<g id="f15-24"><use href="#CF" x="926" y="730"/><text class="l" x="932" y="745">B<tspan x="932" dy="7">26</tspan></text></g>
<g id="f15-25"><use href="#S" x="962" y="730"/></g>
<g id="f15-26"><use href="#CF" x="1013" y="730"/><text class="l" x="1018" y="745">*<tspan x="1018" dy="7.5">61</tspan></text></g>
<g id="f15-27"><use href="#S" x="1045" y="730"/></g>
<g id="f15-28"><use href="#D" x="1078" y="730"/><text class="i" x="1078" y="730">3</text></g>
<g id="f15-29"><use href="#D" x="1114" y="730"/><text class="i" x="1114" y="730">4</text><text class="n" x="1126" y="718">21</text></g>
<g id="f15-30"><use href="#SF" x="921" y="780"/><text class="n" x="928" y="767">1</text><use href="#P" x="935" y="783"/><text class="l" x="925" y="792">S<tspan x="925" dy="7">8</tspan></text></g>
<g id="f15-31"><use href="#C" x="962" y="780"/><text class="n" x="972" y="767">2</text></g>
</g>

<g id="family-16">
<text class="t" x="1196" y="565">FAMILY 16</text>
<g id="f16-1"><use href="#S" x="1372" y="590"/><text class="n" x="1382" y="576">1</text></g>
<g id="f16-2"><use href="#C" x="1409" y="590"/><text class="n" x="1421" y="576">2</text></g>
<g id="f16-3"><use href="#C" x="1333" y="635"/><text class="n" x="1340" y="621">1</text></g>
<g id="f16-4"><use href="#SF" x="1370" y="635"/><text class="l" x="1377" y="649">OS<tspan x="1377" dy="7">26</tspan></text></g>
<g id="f16-5"><use href="#CF" x="1407" y="635"/><use href="#P" x="1416" y="637"/><text class="l" x="1414" y="649">OS<tspan x="1414" dy="7">27</tspan></text></g>
<g id="f16-6"><use href="#D" x="1444" y="635"/><text class="i" x="1444" y="635">4</text><text class="n" x="1454" y="622">7</text></g>
<g id="f16-7"><use href="#C" x="1270" y="682"/><text class="n" x="1277" y="669">1</text></g>
<g id="f16-8"><use href="#C" x="1319" y="682"/></g>
<g id="f16-9"><use href="#CF" x="1363" y="682"/><text class="n" x="1374" y="669">3</text><text class="l" x="1374" y="697">B<tspan x="1374" dy="7">42</tspan></text></g>
<g id="f16-10"><use href="#C" x="1251" y="732"/><text class="i" x="1251" y="732">2</text><text class="n" x="1257" y="720">1</text></g>
<g id="f16-11"><use href="#SF" x="1286" y="732"/><text class="l" x="1289" y="747">OS<tspan x="1289" dy="7">15</tspan></text></g>
<g id="f16-12"><use href="#D" x="1363" y="732"/><text class="i" x="1363" y="732">4</text><text class="n" x="1374" y="720">7</text></g>
</g>

<g id="family-17">
<text class="t" x="768" y="842">FAMILY 17</text>
<g id="f17-1"><use href="#S" x="917" y="875"/><text class="n" x="924" y="861">1</text></g>
<g id="f17-2"><use href="#CF" x="1009" y="875"/><text class="l" x="1014" y="890">M<tspan x="1014" dy="8">60</tspan></text></g>
<g id="f17-3"><use href="#S" x="1108" y="875"/><text class="n" x="1114" y="861">3</text></g>
<g id="f17-4"><use href="#S" x="784" y="930"/><text class="n" x="791" y="917">1</text></g>
<g id="f17-5"><use href="#CF" x="818" y="930"/><text class="l" x="826" y="945">*<tspan x="826" dy="7">47</tspan></text></g>
<g id="f17-6"><use href="#CF" x="891" y="930"/><text class="l" x="898" y="945">BS<tspan x="898" dy="7">42</tspan></text></g>
<g id="f17-7"><use href="#S" x="963" y="932"/></g>
<g id="f17-8"><use href="#S" x="1001" y="932"/><text class="i" x="1001" y="932">2</text></g>
<g id="f17-9"><use href="#CH" x="1041" y="930"/><text class="l" x="1045" y="955">6</text></g>
<g id="f17-10"><use href="#SF" x="1098" y="930"/><text class="n" x="1105" y="917">8</text><text class="l" x="1101" y="945">OS<tspan x="1101" dy="7">28</tspan></text></g>
<g id="f17-11"><use href="#CF" x="766" y="990"/><text class="n" x="770" y="977">1</text><text class="l" x="771" y="1004">F<tspan x="772" dy="8">16</tspan></text></g>
<g id="f17-12"><use href="#C" x="798" y="990"/></g>
<g id="f17-13"><use href="#CF" x="832" y="990"/><use href="#P" x="848" y="991"/><text class="l" x="839" y="1004">S<tspan x="840" dy="8">20</tspan></text></g>
<g id="f17-14"><use href="#SH" x="872" y="988"/><text class="l" x="875" y="1006">L</text></g>
<g id="f17-15"><use href="#D" x="905" y="990"/><text class="i" x="905" y="990">6</text></g>
<g id="f17-16"><use href="#SF" x="944" y="988"/><text class="l" x="948" y="1004">S<tspan x="948" dy="8">4</tspan></text></g>
<g id="f17-17"><use href="#D" x="991" y="990"/><text class="i" x="991" y="990">4</text></g>
<g id="f17-18"><use href="#C" x="1041" y="990"/></g>
<g id="f17-19"><use href="#CF" x="1071" y="990"/><text class="l" x="1075" y="1004">L<tspan x="1075" dy="8">6</tspan></text></g>
<g id="f17-20"><use href="#D" x="1122" y="990"/><text class="i" x="1122" y="990">4</text><text class="n" x="1129" y="979">21</text></g>
<g id="f17-21"><use href="#D" x="766" y="1035"/><text class="n" x="771" y="1023">1</text></g>
<g id="f17-22"><use href="#C" x="832" y="1035"/><text class="n" x="842" y="1023">2</text></g>
</g>

<g id="family-18">
<text class="t" x="1196" y="842">FAMILY 18</text>
<g id="f18-1"><use href="#S" x="1223" y="875"/><text class="n" x="1231" y="862">1</text></g>
<g id="f18-2"><use href="#CH" x="1275" y="875"/><text class="n" x="1282" y="862">2</text><text class="l" x="1280" y="891">F</text></g>
<g id="f18-3"><use href="#SF" x="1202" y="932"/><text class="n" x="1210" y="919">1</text><text class="l" x="1210" y="947">S<tspan x="1210" dy="7">41</tspan></text></g>
<g id="f18-4"><use href="#C" x="1246" y="930"/></g>
<g id="f18-5"><use href="#S" x="1293" y="932"/></g>
<g id="f18-6"><use href="#C" x="1333" y="930"/><text class="n" x="1341" y="917">4</text></g>
<g id="f18-7"><use href="#CF" x="1213" y="988"/><text class="n" x="1219" y="974">1</text><text class="l" x="1220" y="1002">BS<tspan x="1220" dy="7">27</tspan></text></g>
<g id="f18-8"><use href="#SF" x="1314" y="988"/><text class="l" x="1321" y="1003">LS<tspan x="1321" dy="7">36</tspan></text></g>
<g id="f18-9"><use href="#SF" x="1402" y="988"/><text class="l" x="1412" y="1003">S<tspan x="1412" dy="7">36</tspan></text></g>
<g id="f18-10"><use href="#C" x="1447" y="988"/><text class="n" x="1458" y="974">4</text></g>
<g id="f18-11"><use href="#S" x="1213" y="1042"/><text class="i" x="1213" y="1042">2</text><text class="n" x="1219" y="1029">1</text></g>
<g id="f18-12"><use href="#D" x="1286" y="1040"/><text class="i" x="1286" y="1040">2</text></g>
<g id="f18-13"><use href="#CF" x="1349" y="1040"/><text class="l" x="1357" y="1055">B<tspan x="1357" dy="7">23</tspan></text></g>
<g id="f18-14"><use href="#SF" x="1404" y="1042"/><use href="#P" transform="translate(1391 1052) scale(-1 1)"/><text class="l" x="1410" y="1056">OS<tspan x="1410" dy="7">13</tspan></text></g>
<g id="f18-15"><use href="#C" x="1436" y="1042"/></g>
<g id="f18-16"><use href="#C" x="1458" y="1042"/><text class="i" x="1458" y="1042">2</text></g>
<g id="f18-17"><use href="#SF" x="1323" y="1095"/><text class="n" x="1330" y="1082">1</text><text class="l" x="1327" y="1108">1</text></g>
<g id="f18-18"><use href="#S" x="1379" y="1095"/></g>
<g id="f18-19"><use href="#S" x="1421" y="1095"/><text class="n" x="1428" y="1082">3</text></g>
</g>

<g id="family-19">
<text class="t" x="797" y="1149">FAMILY 19</text>
<g id="f19-1"><use href="#S" x="1017" y="1183"/><text class="n" x="1024" y="1170">1</text></g>
<g id="f19-2"><use href="#C" x="1063" y="1183"/><text class="n" x="1071" y="1170">2</text></g>
<g id="f19-3"><use href="#S" x="920" y="1236"/><text class="n" x="928" y="1223">1</text></g>
<g id="f19-4"><use href="#CF" x="976" y="1236"/><text class="l" x="982" y="1250">B<tspan x="982" dy="7">60</tspan></text></g>
<g id="f19-5"><use href="#CF" x="1072" y="1236"/><text class="l" x="1079" y="1250">S<tspan x="1079" dy="7">62</tspan></text></g>
<g id="f19-6"><use href="#D" x="1117" y="1236"/><text class="i" x="1117" y="1236">3</text><text class="n" x="1123" y="1223">8</text></g>
<g id="f19-7"><use href="#S" x="821" y="1289"/><text class="n" x="828" y="1276">1</text></g>
<g id="f19-8"><use href="#C" x="865" y="1289"/></g>
<g id="f19-9"><use href="#SF" x="918" y="1289"/><text class="l" x="927" y="1304">LS<tspan x="927" dy="7">51</tspan></text></g>
<g id="f19-10"><use href="#CF" x="955" y="1289"/><text class="l" x="961" y="1304">B<tspan x="961" dy="7">42</tspan></text></g>
<g id="f19-11"><use href="#S" x="997" y="1289"/></g>
<g id="f19-12"><use href="#CF" x="1039" y="1289"/><text class="l" x="1048" y="1304">B<tspan x="1048" dy="7">32</tspan></text></g>
<g id="f19-13"><use href="#C" x="1072" y="1289"/><text class="n" x="1079" y="1276">7</text></g>
<g id="f19-14"><use href="#CF" x="807" y="1343"/><text class="n" x="813" y="1330">1</text><use href="#P" x="823" y="1347"/><text class="l" x="813" y="1357">OS<tspan x="813" dy="7">5</tspan></text></g>
<g id="f19-15"><use href="#SF" x="848" y="1343"/><text class="l" x="856" y="1357">CN<tspan x="856" dy="7">16</tspan></text></g>
<g id="f19-16"><use href="#C" x="887" y="1343"/><text class="i" x="887" y="1343">3</text></g>
<g id="f19-17"><use href="#D" x="918" y="1345"/><text class="i" x="918" y="1345">2</text></g>
<g id="f19-18"><use href="#D" x="1039" y="1345"/><text class="i" x="1039" y="1345">3</text><text class="n" x="1049" y="1333">10</text></g>
</g>

<g id="family-20">
<text class="t" x="1203" y="1148">FAMILY 20</text>
<g id="f20-1"><use href="#S" x="1302" y="1183"/><text class="n" x="1311" y="1170">1</text></g>
<g id="f20-2"><use href="#CF" x="1345" y="1183"/><text class="n" x="1352" y="1170">2</text><text class="l" x="1352" y="1202">NS<tspan x="1352" dy="7">20</tspan></text></g>
<g id="f20-3"><use href="#S" x="1279" y="1236"/><text class="n" x="1287" y="1223">1</text></g>
<g id="f20-4"><use href="#CF" x="1323" y="1236"/><text class="n" x="1332" y="1222">2</text><text class="l" x="1334" y="1249">CN<tspan x="1334" dy="8">24</tspan></text></g>
<g id="f20-5"><use href="#SF" x="1301" y="1278"/><text class="n" x="1309" y="1264">1</text><text class="l" x="1309" y="1294">CN<tspan x="1309" dy="7">29</tspan></text></g>
<g id="f20-6"><use href="#C" x="1350" y="1278"/><text class="n" x="1357" y="1264">2</text></g>
<g id="f20-7"><use href="#SF" x="1284" y="1337"/><text class="n" x="1293" y="1325">1</text><text class="l" x="1287" y="1352">CN<tspan x="1287" dy="8">13</tspan></text></g>
<g id="f20-8"><use href="#D" x="1327" y="1337"/><text class="i" x="1327" y="1337">3</text></g>
<g id="f20-9"><use href="#CF" x="1371" y="1337"/><text class="n" x="1372" y="1323">6</text><use href="#P" x="1379" y="1343"/><text class="l" x="1376" y="1352">OS<tspan x="1376" dy="8">16</tspan></text></g>
</g>

<g id="family-21">
<text class="t" x="803" y="1440">FAMILY 21</text>
<g id="f21-1"><use href="#SF" x="812" y="1489"/><text class="n" x="820" y="1476">1</text><text class="l" x="820" y="1503">S<tspan x="820" dy="7">30</tspan></text></g>
<g id="f21-2"><use href="#C" x="872" y="1491"/><text class="n" x="879" y="1477">2</text></g>
<g id="f21-3"><use href="#SF" x="798" y="1548"/><text class="n" x="807" y="1535">1</text><use href="#P" x="813" y="1547"/><text class="l" x="804" y="1562">S<tspan x="804" dy="7">5</tspan></text></g>
<g id="f21-4"><use href="#SF" x="842" y="1547"/><text class="l" x="847" y="1562">OS<tspan x="847" dy="7">5</tspan></text></g>
<g id="f21-5"><use href="#C" x="888" y="1545"/><text class="n" x="895" y="1532">3</text></g>
</g>

<g id="family-22">
<text class="t" x="973" y="1440">FAMILY 22</text>
<g id="f22-1"><use href="#SF" x="984" y="1489"/><text class="n" x="990" y="1476">1</text><text class="l" x="991" y="1503">S<tspan x="991" dy="7">60</tspan></text></g>
<g id="f22-2"><use href="#C" x="1030" y="1489"/><text class="n" x="1037" y="1476">2</text></g>
<g id="f22-3"><use href="#SF" x="965" y="1547"/><text class="n" x="971" y="1533">1</text><text class="l" x="967" y="1562">OS<tspan x="967" dy="7">11</tspan></text></g>
<g id="f22-4"><use href="#CF" x="1008" y="1547"/><use href="#P" x="1019" y="1547"/><text class="l" x="1013" y="1562">OS<tspan x="1013" dy="7">10</tspan></text></g>
<g id="f22-5"><use href="#D" x="1047" y="1545"/><text class="i" x="1047" y="1545">6</text><text class="n" x="1053" y="1532">8</text></g>
</g>

<g id="family-23">
<text class="t" x="1168" y="1438">FAMILY 23</text>
<g id="f23-1"><use href="#S" x="1147" y="1490"/><text class="n" x="1153" y="1476">1</text></g>
<g id="f23-2"><use href="#CH" x="1189" y="1489"/><text class="l" x="1197" y="1503">NS</text></g>
<g id="f23-3"><use href="#CH" x="1219" y="1489"/><text class="l" x="1226" y="1502">B</text></g>
<g id="f23-4"><use href="#SH" x="1247" y="1489"/><text class="l" x="1254" y="1502">B</text></g>
<g id="f23-5"><use href="#C" x="1276" y="1489"/><text class="n" x="1283" y="1476">8</text></g>
<g id="f23-6"><use href="#S" x="1156" y="1540"/><text class="i" x="1156" y="1540">2</text><text class="n" x="1159" y="1528">1</text></g>
<g id="f23-7"><use href="#CH" x="1189" y="1540"/><text class="l" x="1195" y="1555">F<tspan x="1195" dy="7">42</tspan></text></g>
<g id="f23-8"><use href="#S" x="1224" y="1538"/><text class="n" x="1233" y="1525">4</text></g>
<g id="f23-9"><use href="#SF" x="1171" y="1585"/><text class="n" x="1178" y="1572">1</text><text class="l" x="1173" y="1601">OS</text></g>
<g id="f23-10"><use href="#CF" x="1204" y="1585"/><text class="l" x="1204" y="1601">OS</text></g>
<g id="f23-11"><use href="#CF" x="1237" y="1585"/><text class="n" x="1241" y="1571">3</text><use href="#P" x="1250" y="1588"/><text class="l" x="1240" y="1601">B</text></g>
</g>

<g id="family-24">
<text class="t" x="1345" y="1436">FAMILY 24</text>
<g id="f24-1"><use href="#SF" x="1351" y="1488"/><text class="n" x="1356" y="1474">1</text><text class="l" x="1356" y="1500">*<tspan x="1356" dy="7.5">40</tspan></text></g>
<g id="f24-2"><use href="#CF" x="1413" y="1488"/><text class="n" x="1423" y="1474">2</text><text class="l" x="1417" y="1501">B<tspan x="1417" dy="7">40</tspan></text></g>
<g id="f24-3"><use href="#D" x="1331" y="1542"/><text class="i" x="1331" y="1542">4</text><text class="n" x="1337" y="1529">1</text></g>
<g id="f24-4"><use href="#CF" x="1380" y="1538"/><use href="#P" x="1391" y="1542"/><text class="l" x="1382" y="1557">S<tspan x="1382" dy="7">2</tspan></text></g>
<g id="f24-5"><use href="#CF" x="1424" y="1538"/><text class="n" x="1427" y="1525">6</text><text class="l" x="1428" y="1557">*<tspan x="1428" dy="7">24</tspan></text></g>
</g>

<g id="legend">
<rect x="181" y="1296" width="16" height="18" fill="#000"/>
<text class="n" x="197" y="1322">2</text>
<text class="lg" x="204" y="1309" textLength="326" lengthAdjust="spacingAndGlyphs">MALE WITH DOCUMENTED CANCER, AGE 2 YEARS</text>
<use href="#CH" x="188" y="1341"/>
<text class="lg" x="203" y="1342" textLength="273" lengthAdjust="spacingAndGlyphs">FEMALE WITH CANCER BY HISTORY ONLY</text>
<polygon points="180,1362 197,1366 190,1376" fill="#000"/>
<text class="lg" x="204" y="1368" textLength="62" lengthAdjust="spacingAndGlyphs">PROBAND</text>
<use href="#D" x="337" y="1368"/><text class="i" x="337" y="1368">3</text>
<text class="lg" x="365" y="1368" textLength="166" lengthAdjust="spacingAndGlyphs">3 PERSONS, EITHER SEX</text>
</g>
</svg>
